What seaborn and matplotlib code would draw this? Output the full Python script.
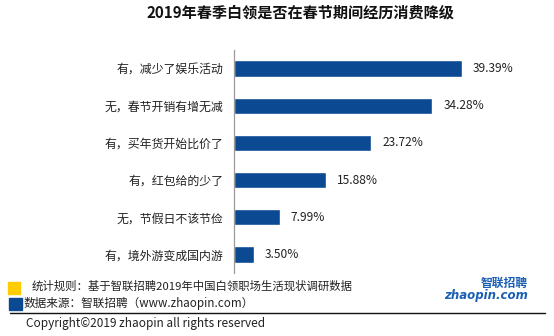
import matplotlib
matplotlib.use("Agg")
import matplotlib.pyplot as plt
from matplotlib.patches import Rectangle
import seaborn as sns
import pandas as pd

categories = [
    "有，减少了娱乐活动",
    "无，春节开销有增无减",
    "有，买年货开始比价了",
    "有，红包给的少了",
    "无，节假日不该节俭",
    "有，境外游变成国内游",
]
values = [39.39, 34.28, 23.72, 15.88, 7.99, 3.50]
value_labels = ["39.39%", "34.28%", "23.72%", "15.88%", "7.99%", "3.50%"]

title = "2019年春季白领是否在春节期间经历消费降级"
note_rule = "统计规则：基于智联招聘2019年中国白领职场生活现状调研数据"
note_source = "数据来源：智联招聘（www.zhaopin.com）"
copyright_text = "Copyright©2019 zhaopin all rights reserved"

sns.set_style("white")
plt.rcParams["font.family"] = ["Noto Sans CJK SC", "DejaVu Sans"]

BAR_BLUE = "#0B4A93"
W, H = 554, 336
fig = plt.figure(figsize=(W / 100, H / 100), dpi=100)

# axes placed in pixel coordinates
ax_left, ax_top, ax_bottom, ax_right = 233.5, 50, 273, 523.5
ax = fig.add_axes([ax_left / W, 1 - ax_bottom / H,
                   (ax_right - ax_left) / W, (ax_bottom - ax_top) / H])

df = pd.DataFrame({"category": categories, "value": values})
sns.barplot(data=df, x="value", y="category", orient="h", color=BAR_BLUE,
            width=0.44, saturation=1, ax=ax)

ax.set_xlim(0, 50)
ax.set_ylim(len(categories) - 0.5, -0.5)
ax.set_xlabel("")
ax.set_ylabel("")
ax.set_xticks([])
for s in ["top", "right", "bottom"]:
    ax.spines[s].set_visible(False)
ax.spines["left"].set_color("#9A9A9A")
ax.spines["left"].set_linewidth(0.9)

# category labels centred on bars, tick marks on the category boundaries
ax.set_yticks(range(len(categories)))
ax.set_yticklabels(categories, fontsize=8.6, color="#222222")
ax.tick_params(axis="y", which="major", length=0, pad=7)
ax.set_yticks([i - 0.5 for i in range(len(categories) + 1)], minor=True)
ax.tick_params(axis="y", which="minor", length=4, width=0.9, color="#9A9A9A",
               direction="out")

for i, (v, lab) in enumerate(zip(values, value_labels)):
    ax.annotate(lab, xy=(v, i), xytext=(8, 0), textcoords="offset points",
                va="center", ha="left", fontsize=8.6, color="#222222")

fig.text(300 / W, 1 - 13 / H, title, ha="center", va="center",
         fontsize=10.9, fontweight="bold", color="#111111")

# footer notes with coloured markers
fig.patches.append(Rectangle((8 / W, 1 - 294 / H), 12 / W, 12 / H,
                             transform=fig.transFigure, color="#FFCC00"))
fig.text(32 / W, 1 - 286 / H, note_rule, ha="left", va="center",
         fontsize=8.2, color="#222222")
fig.patches.append(Rectangle((9 / W, 1 - 310 / H), 13 / W, 12 / H,
                             transform=fig.transFigure, color=BAR_BLUE))
fig.text(24 / W, 1 - 303 / H, note_source, ha="left", va="center",
         fontsize=8.4, color="#222222")

fig.add_artist(plt.Line2D([10 / W, 545 / W], [1 - 313 / H, 1 - 313 / H],
                          transform=fig.transFigure, color="#111111", lw=1))
fig.text(26 / W, 1 - 323 / H, copyright_text, ha="left", va="center",
         fontsize=8.5, color="#222222")

# brand mark
fig.text(504 / W, 1 - 283 / H, "智联招聘", ha="center", va="center",
         fontsize=8.5, fontweight="bold", color="#1A5FB4", fontstyle="italic")
fig.text(486 / W, 1 - 295 / H, "zhaopin.com", ha="center", va="center",
         fontsize=8.5, fontweight="bold", color="#1A5FB4",
         family=["DejaVu Sans"], fontstyle="italic")

fig.savefig("out.png", dpi=100, facecolor="white")
